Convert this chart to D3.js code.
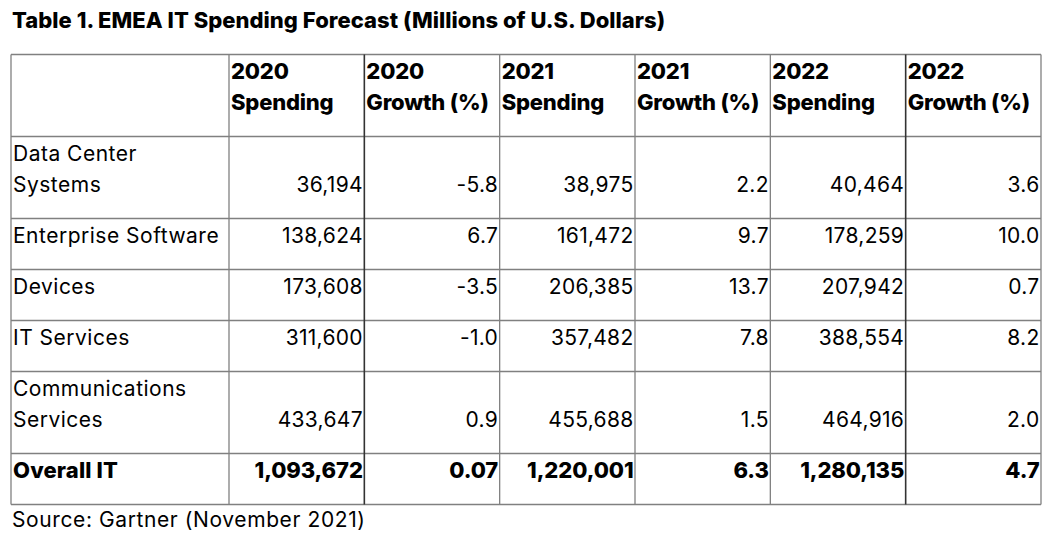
<!DOCTYPE html>
<html><head><meta charset="utf-8">
<script src="https://cdn.jsdelivr.net/npm/d3@7"></script>
<style>
html,body{margin:0;padding:0;background:#fff;}
svg{display:block;}
text{font-family:Inter,"Open Sans",sans-serif;fill:#000;}
</style></head><body>
<svg id="c" width="1058" height="537"></svg>
<script>
const title = "Table 1. EMEA IT Spending Forecast (Millions of U.S. Dollars)";
const source = "Source: Gartner (November 2021)";
const columns = [["2020","Spending"],["2020","Growth (%)"],["2021","Spending"],["2021","Growth (%)"],["2022","Spending"],["2022","Growth (%)"]];
const categories = [["Data Center","Systems"],["Enterprise Software"],["Devices"],["IT Services"],["Communications","Services"],["Overall IT"]];
const spending2020 = ["36,194","138,624","173,608","311,600","433,647","1,093,672"];
const growth2020   = ["-5.8","6.7","-3.5","-1.0","0.9","0.07"];
const spending2021 = ["38,975","161,472","206,385","357,482","455,688","1,220,001"];
const growth2021   = ["2.2","9.7","13.7","7.8","1.5","6.3"];
const spending2022 = ["40,464","178,259","207,942","388,554","464,916","1,280,135"];
const growth2022   = ["3.6","10.0","0.7","8.2","2.0","4.7"];
const series = [spending2020,growth2020,spending2021,growth2021,spending2022,growth2022];

const svg = d3.select("#c");
const tLeft = 11, firstColRight = 229, tRight = 1041, tTop = 54.5;
const lineH = 31, pad = 20;

const x = d3.scaleBand().domain(d3.range(columns.length)).range([firstColRight, tRight]).paddingInner(0).paddingOuter(0);

const rowHeights = [2*lineH+pad].concat(categories.map(c => c.length*lineH+pad));
const rowTops = []; let acc = tTop;
rowHeights.forEach(h => { rowTops.push(acc); acc += h; });
const tBottom = acc;

svg.append("text").attr("x", 12).attr("y", 27.5)
  .style("font-size","22px").style("font-weight",800).style("letter-spacing","0.03px").text(title);

const grid = svg.append("g").attr("fill","none");
rowTops.concat([tBottom]).forEach(yv => grid.append("line").attr("x1",tLeft).attr("x2",tRight).attr("y1",yv).attr("y2",yv).attr("stroke","#808080").attr("stroke-width",1.3));
const xs = [tLeft, firstColRight].concat(d3.range(1,columns.length).map(i => x(i))).concat([tRight]);
xs.forEach((xv,i) => grid.append("line").attr("x1",xv).attr("x2",xv).attr("y1",tTop).attr("y2",tBottom)
  .attr("stroke", (i===2||i===6)?"#333":"#808080").attr("stroke-width", (i===2||i===6)?1.6:1.3));

columns.forEach((c,i) => {
  c.forEach((t,j) => svg.append("text").attr("x", x(i)+2).attr("y", tTop+24.5+j*lineH)
    .style("font-size","22px").style("font-weight",800).style("letter-spacing","-0.2px").text(t));
});

categories.forEach((cat,r) => {
  const rt = rowTops[r+1], rb = rt + rowHeights[r+1];
  const bold = r === categories.length-1;
  const fs = bold ? "22px" : "21px", ls = bold ? "0.15px" : "0.5px";
  cat.forEach((t,j) => svg.append("text").attr("x", 13).attr("y", rt+24+j*lineH)
    .style("font-size",fs).style("font-weight", bold?800:400).style("letter-spacing", ls).text(t));
  series.forEach((s,i) => svg.append("text").attr("x", x(i)+x.bandwidth()-1.5).attr("y", rb-27)
    .attr("text-anchor","end").style("font-size",fs).style("font-weight", bold?800:400)
    .style("letter-spacing", bold?"-0.1px":"0.3px").text(s[r]));
});

svg.append("text").attr("x", 12).attr("y", 526.5).style("font-size","21px").style("letter-spacing","0.6px").text(source);
</script></body></html>
